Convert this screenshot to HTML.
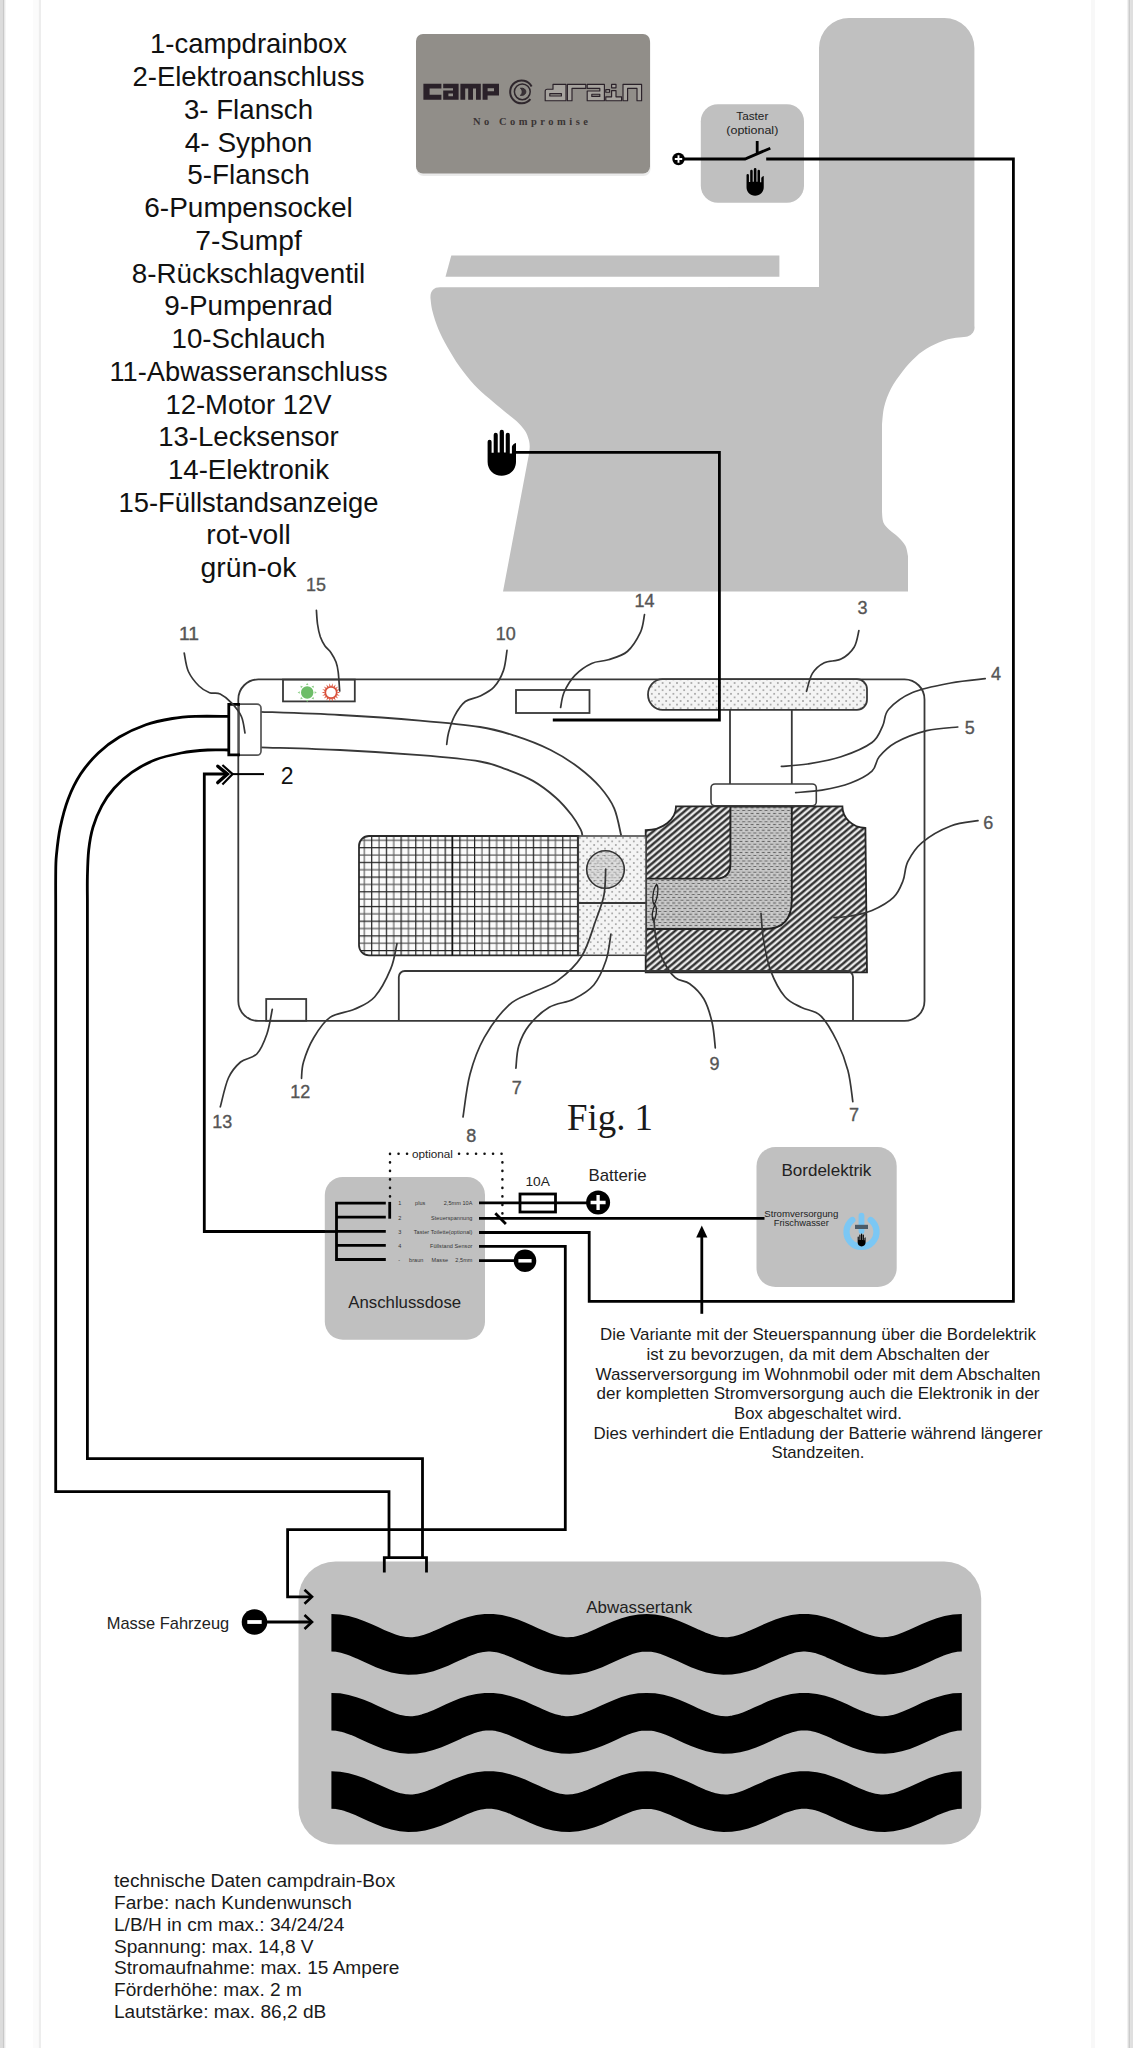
<!DOCTYPE html>
<html lang="de">
<head>
<meta charset="utf-8">
<title>campdrain-Box Anschlussplan</title>
<style>
html,body{margin:0;padding:0;background:#fff;}
body{width:1133px;height:2048px;overflow:hidden;font-family:"Liberation Sans",sans-serif;}
svg{display:block;}
text{font-family:"Liberation Sans",sans-serif;}
.serif{font-family:"Liberation Serif",serif;}
.k{stroke:#000;stroke-width:2.8;fill:none;stroke-linejoin:miter;}
.g{stroke:#383838;stroke-width:1.8;fill:none;}
.ld{stroke:#363636;stroke-width:1.7;fill:none;stroke-linecap:round;}
.lb{fill:#555;font-size:18px;text-anchor:middle;stroke:#555;stroke-width:.35;}
.lst{font-size:27.4px;fill:#111;text-anchor:middle;}
.tiny{font-size:5.5px;fill:#333;letter-spacing:.08px;}
</style>
</head>
<body>
<svg width="1133" height="2048" viewBox="0 0 1133 2048">
<defs>
  <!-- hand icon, 30 x 46 box -->
  <symbol id="hand" viewBox="0 0 29 46" overflow="visible">
    <path d="M.3 12a2 2 0 0 1 4 0V23h2.1V4.9a2 2 0 0 1 4.1 0V22.6h1.9V2.1a2.15 2.15 0 0 1 4.3 0V22.6h1.8V4.9a2 2 0 0 1 4.1 0V23.6h2.1V17c0 -1.6 2.2 -3.6 4.1 -3.9V32c0 8 -6 14 -14.3 14S.3 40 .3 32Z" fill="#000"/>
  </symbol>
  <pattern id="grid" width="14.7" height="14.7" patternUnits="userSpaceOnUse" x="371.1" y="847.1">
    <rect width="14.7" height="14.7" fill="#fbfbfb"/>
    <path d="M0 7.95H14.7M7.95 0V14.7" stroke="#5a5a5a" stroke-width="1.15"/>
    <path d="M0 .6H14.7M.6 0V14.7" stroke="#222" stroke-width="1.25"/>
  </pattern>
  <pattern id="dots" width="7.2" height="7.2" patternUnits="userSpaceOnUse" x="578" y="836">
    <rect width="7.2" height="7.2" fill="#f4f4f4"/>
    <circle cx="1.8" cy="1.8" r=".85" fill="#8c8c8c"/>
    <circle cx="5.4" cy="5.4" r=".85" fill="#8c8c8c"/>
  </pattern>
  <pattern id="dots2" width="5.6" height="5.6" patternUnits="userSpaceOnUse">
    <rect width="5.6" height="5.6" fill="#c2c2c2"/>
    <path d="M4.7 0V5.6" stroke="#d6d6d6" stroke-width=".9"/>
    <path d="M.3 1.4H3.1M3.1 4.2H5.6M0 4.2H.3" stroke="#5c5c5c" stroke-width="1.1"/>
  </pattern>
  <pattern id="hatch" width="12" height="4.75" patternUnits="userSpaceOnUse" patternTransform="rotate(-40)">
    <rect width="12" height="4.75" fill="#e9e9e9"/>
    <rect width="12" height="2.2" y="1.2" fill="#242424"/>
  </pattern>
</defs>

<!-- page background & frame edges -->
<rect width="1133" height="2048" fill="#fff"/>
<rect x="0" y="0" width="2.5" height="2048" fill="#dcdcdc"/>
<rect x="2.5" y="0" width="2" height="2048" fill="#c9c9c9"/>
<rect x="4.5" y="0" width="1" height="2048" fill="#ececec"/>
<rect x="38.5" y="0" width="2.5" height="2048" fill="#ededed"/>
<rect x="33" y="0" width="5.5" height="2048" fill="#fbfbfb"/>
<rect x="1091" y="0" width="4" height="2048" fill="#f8f8f8"/>
<rect x="1127.5" y="0" width="1" height="2048" fill="#e4e4e4"/>
<rect x="1128.5" y="0" width="2" height="2048" fill="#cbcbcb"/>
<rect x="1130.5" y="0" width="2.5" height="2048" fill="#dfdfdf"/>

<!-- ===== legend list ===== -->
<g id="legend" class="lst">
  <text x="248.5" y="53.3" textLength="197" lengthAdjust="spacingAndGlyphs">1-campdrainbox</text>
  <text x="248.5" y="86" textLength="232" lengthAdjust="spacingAndGlyphs">2-Elektroanschluss</text>
  <text x="248.5" y="118.8" textLength="129" lengthAdjust="spacingAndGlyphs">3- Flansch</text>
  <text x="248.5" y="151.6" textLength="127.5" lengthAdjust="spacingAndGlyphs">4- Syphon</text>
  <text x="248.5" y="184.4" textLength="122.5" lengthAdjust="spacingAndGlyphs">5-Flansch</text>
  <text x="248.5" y="217.2" textLength="208.5" lengthAdjust="spacingAndGlyphs">6-Pumpensockel</text>
  <text x="248.5" y="249.9" textLength="106.5" lengthAdjust="spacingAndGlyphs">7-Sumpf</text>
  <text x="248.5" y="282.7" textLength="233.5" lengthAdjust="spacingAndGlyphs">8-Rückschlagventil</text>
  <text x="248.5" y="315.4" textLength="168.5" lengthAdjust="spacingAndGlyphs">9-Pumpenrad</text>
  <text x="248.5" y="348.1" textLength="154" lengthAdjust="spacingAndGlyphs">10-Schlauch</text>
  <text x="248.5" y="380.8" textLength="278" lengthAdjust="spacingAndGlyphs">11-Abwasseranschluss</text>
  <text x="248.5" y="413.5" textLength="166" lengthAdjust="spacingAndGlyphs">12-Motor 12V</text>
  <text x="248.5" y="446.2" textLength="180.5" lengthAdjust="spacingAndGlyphs">13-Lecksensor</text>
  <text x="248.5" y="478.9" textLength="161" lengthAdjust="spacingAndGlyphs">14-Elektronik</text>
  <text x="248.5" y="511.6" textLength="260" lengthAdjust="spacingAndGlyphs">15-Füllstandsanzeige</text>
  <text x="248.5" y="544.4" textLength="84.5" lengthAdjust="spacingAndGlyphs">rot-voll</text>
  <text x="248.5" y="577.1" textLength="96" lengthAdjust="spacingAndGlyphs">grün-ok</text>
</g>

<!-- ===== toilet silhouette ===== -->
<g id="toilet" fill="#c0c0c0">
  <path d="M445.5 276.8L451.3 255.4H779.4V276.8Z"/>
  <path d="M819 287V48a30 30 0 0 1 30 -30H944.4a30 30 0 0 1 30 30V326a9 9 0 0 1 -6.9 10.4C964.4 336.9 954.1 337.6 947.9 339.3C941.7 341.0 935.7 343.7 930.3 346.6C924.9 349.5 920.3 352.8 915.7 356.9C911.1 361.0 906.6 366.1 902.5 371.5C898.4 376.9 893.8 383.2 890.8 389.1C887.8 395.0 885.7 400.8 884.2 406.7C882.7 412.6 882.4 421.4 882.0 424.3V512.1C882.2 513.8 882.2 519.5 883.4 522.4C884.6 525.3 886.8 527.3 889.3 529.7C891.8 532.1 895.4 534.3 898.1 537.0C900.8 539.7 903.8 542.6 905.4 545.8C907.0 549.0 907.6 554.4 908.0 556.1V591.4H503L528.7 455.5C528.9 454.1 529.7 449.5 529.7 446.8C529.7 444.1 529.5 442.1 528.7 439.4C527.9 436.7 527.0 433.8 525.0 430.7C523.0 427.6 519.9 424.2 516.4 420.9C512.9 417.6 508.5 414.7 504.0 411.0C499.5 407.3 494.1 402.9 489.2 398.6C484.3 394.3 479.3 390.4 474.4 385.0C469.4 379.6 464.0 372.9 459.5 366.5C455.0 360.1 450.7 352.9 447.2 346.7C443.7 340.5 441.0 335.4 438.5 329.4C436.0 323.4 433.7 316.0 432.4 310.9C431.1 305.8 430.8 300.6 430.5 298.5C430 291 433.5 287.2 440 287.2Z"/>
</g>

<!-- ===== logo card ===== -->
<g id="logo">
  <rect x="416.5" y="36" width="234" height="140" rx="7" fill="#d9d9d9" opacity=".55"/>
  <rect x="416" y="34" width="234" height="139.5" rx="7" fill="#918e89"/>
  <!-- "camp" block letters -->
  <g fill="#2a2129">
    <path d="M423.4 83.8H441.4V88.6H429.6V94.8H441.4V99.7H423.4Z"/>
    <path d="M443.2 83.8H458.6V99.7H443.2V90.4H453V88.2H443.2ZM448.4 93.6V96.2H453V93.6Z" fill-rule="evenodd"/>
    <path d="M460.4 83.8H480.8V99.7H476V88.4H473V99.7H468.2V88.4H465.2V99.7H460.4Z"/>
    <path d="M482.6 83.8H499V95.6H487.6V99.7H482.6ZM487.6 88.2V91.2H494V88.2Z" fill-rule="evenodd"/>
  </g>
  <!-- ring emblem -->
  <g fill="none" stroke="#2f272d">
    <path d="M531.6 86.5a11.4 11.4 0 1 0 -1.2 12.6" stroke-width="2"/>
    <circle cx="522.3" cy="91.8" r="7.9" stroke-width="1.5"/>
    <path d="M520.3 88.2c3.6 -.6 5.6 1.4 5.6 3.6s-2 4.2 -5.6 3.6c1.4 -1 1.8 -2.2 1.8 -3.6s-.4 -2.6 -1.8 -3.6Z" fill="#3a3237" stroke-width=".8"/>
  </g>
  <!-- "drain" outline letters -->
  <g fill="#a6a39e" stroke="#2a2129" stroke-width="1.15" stroke-linejoin="round">
    <path d="M561.4 84.4H566V100.7H545.2V91.2a2 2 0 0 1 2 -2H553V84.4ZM549.8 93.6V96H561.4V93.6Z" fill-rule="evenodd"/>
    <path d="M567.4 84.4H585.8V88.4H572V100.7H567.4Z"/>
    <path d="M587.2 84.4H604.4V100.7H587.2V91H599.8V88.4H587.2ZM591.8 94.2V96.4H599.8V94.2Z" fill-rule="evenodd"/>
    <path d="M605.8 96.8H611.6V90.6H616V96.8H621.6V100.7H605.8ZM611.6 84.4H616V87.8H611.6ZM605.8 89.6H609.6V92.2H605.8Z"/>
    <path d="M623 84.4H641.6V100.7H637V88.4H627.6V100.7H623Z"/>
  </g>
  <text class="serif" x="532" y="125.4" font-size="10.5" font-weight="bold" fill="#3a3434" text-anchor="middle" letter-spacing="3.1" textLength="118" lengthAdjust="spacing">No Compromise</text>
</g>

<!-- ===== Taster box ===== -->
<g id="taster">
  <rect x="700.8" y="104.3" width="103.2" height="98.5" rx="17" fill="#c0c0c0"/>
  <text x="752.3" y="120.2" font-size="11.6" text-anchor="middle" fill="#222" textLength="32" lengthAdjust="spacingAndGlyphs">Taster</text>
  <text x="752.3" y="133.6" font-size="11.6" text-anchor="middle" fill="#222" textLength="52" lengthAdjust="spacingAndGlyphs">(optional)</text>
  <use href="#hand" x="746.3" y="168" width="17.6" height="27.8"/>
</g>



<!-- ===== Fig. 1 : campdrain box ===== -->
<g id="fig1">
  <!-- outer case -->
  <rect class="g" x="238.3" y="679.4" width="686.2" height="341.5" rx="20"/>
  <!-- 15 LED panel -->
  <rect class="g" x="283" y="679.6" width="71.8" height="21.8" fill="#fff"/>
  <g id="led-green">
    <path d="M316.8 692.5L314.6 693.8L314.6 691.2ZM314.0 699.3L311.5 698.7L313.4 696.8ZM307.2 702.1L305.9 699.9L308.5 699.9ZM300.4 699.3L301.0 696.8L302.9 698.7ZM297.6 692.5L299.8 691.2L299.8 693.8ZM300.4 685.7L302.9 686.3L301.0 688.2ZM307.2 682.9L308.5 685.1L305.9 685.1ZM314.0 685.7L313.4 688.2L311.5 686.3Z" fill="#8fd08a"/>
    <circle cx="307.2" cy="692.5" r="6.2" fill="#6dbd68"/>
  </g>
  <g id="led-red">
    <path d="M340.4 692.5L337.4 691.8L337.4 693.2ZM339.8 695.7L337.2 694.0L336.7 695.3ZM338.2 698.5L336.3 696.0L335.4 697.1ZM335.7 700.6L334.8 697.7L333.6 698.4ZM332.6 701.8L332.8 698.6L331.4 698.9ZM329.4 701.8L330.6 698.9L329.2 698.6ZM326.3 700.6L328.4 698.4L327.2 697.7ZM323.8 698.5L326.6 697.1L325.7 696.0ZM322.2 695.7L325.3 695.3L324.8 694.0ZM321.6 692.5L324.6 693.2L324.6 691.8ZM322.2 689.3L324.8 691.0L325.3 689.7ZM323.8 686.5L325.7 689.0L326.6 687.9ZM326.3 684.4L327.2 687.3L328.4 686.6ZM329.4 683.2L329.2 686.4L330.6 686.1ZM332.6 683.2L331.4 686.1L332.8 686.4ZM335.7 684.4L333.6 686.6L334.8 687.3ZM338.2 686.5L335.4 687.9L336.3 689.0ZM339.8 689.3L336.7 689.7L337.2 691.0Z" fill="#d9503a"/>
    <circle cx="331" cy="692.5" r="5.7" fill="#fff" stroke="#d9503a" stroke-width="1.7"/>
  </g>
  <!-- 14 electronics -->
  <rect class="g" x="516" y="690" width="73.5" height="23" fill="#fff"/>
  <!-- 10 hose -->
  <path class="g" d="M260.3 711.8C273.6 712.3 313.4 713.5 340.0 715.0C366.6 716.5 396.7 718.6 420.0 720.6C443.3 722.6 464.1 724.5 480.0 727.0C495.9 729.5 503.5 732.1 515.3 735.9C527.1 739.7 540.0 744.7 550.6 750.0C561.2 755.3 570.7 761.5 578.9 767.7C587.1 773.9 594.1 780.2 600.0 787.0C605.9 793.8 610.7 800.2 614.2 808.3C617.7 816.4 620.0 831.0 621.2 835.6"/>
  <path class="g" d="M260.3 747.3C273.6 747.8 313.4 748.7 340.0 750.0C366.6 751.3 396.7 753.3 420.0 755.2C443.3 757.1 465.6 759.1 480.0 761.5C494.4 763.9 497.7 766.2 506.5 769.4C515.3 772.6 524.8 776.2 533.0 780.9C541.2 785.6 549.4 792.0 555.9 797.7C562.4 803.4 567.7 810.0 571.8 815.3C575.9 820.6 578.8 826.0 580.6 829.4C582.4 832.8 582.1 834.6 582.4 835.6"/>
  <!-- 11 connector -->
  <path d="M239 704.2H257a4 4 0 0 1 4 4V751.2a4 4 0 0 1 -4 4H239Z" fill="#fff" stroke="#555" stroke-width="1.7"/>
  <path class="k" d="M240 704.4H228.8V754.9H240" stroke-width="2.7"/>
  <!-- 3 flange -->
  <path d="M662.5 679.2H857a10 10 0 0 1 10 10V699.8a10 10 0 0 1 -10 10H662.5a14.5 15.3 0 0 1 0 -30.6Z" fill="url(#dots)" stroke="#383838" stroke-width="1.8"/>
  <!-- 4 syphon pipe -->
  <path class="g" d="M730 710V784M791.8 710V784"/>
  <!-- 6 pump base -->
  <path d="M645.7 830.2A30.3 23.8 0 0 0 676 806.4H842.4A24 21.5 0 0 0 865.4 828L867 972.4H645.7Z" fill="url(#hatch)" stroke="#262626" stroke-width="1.8"/>
  <!-- 7 sump channel -->
  <path d="M730.4 806.6V864Q730.4 878.6 716 878.6H645.7V929H765Q791.8 929 791.8 900V806.6Z" fill="url(#dots2)" stroke="#222" stroke-width="1.9"/>
  <!-- 5 flange -->
  <rect x="711" y="784" width="105.3" height="21.8" rx="4" fill="#fff" stroke="#3c3c3c" stroke-width="1.6"/>
  <!-- 12 motor -->
  <path d="M578.3 836H369a10 10 0 0 0 -10 10V945.3a10 10 0 0 0 10 10H578.3Z" fill="url(#grid)" stroke="#2a2a2a" stroke-width="1.8"/>
  <path d="M452.3 836V955.3" stroke="#111" stroke-width="1.5" fill="none"/>
  <!-- sump block / check valve -->
  <rect x="578.3" y="836" width="67.7" height="119.3" fill="url(#dots)" stroke="#3c3c3c" stroke-width="1.5"/>
  <path class="g" d="M578.3 903H646"/>
  <circle cx="605.5" cy="869.5" r="18.8" fill="url(#dots2)" fill-opacity=".55" stroke="#333" stroke-width="1.6"/>
  <!-- 9 impeller squiggle -->
  <path d="M656.6 884.3c2.6 3 .8 16 -2.6 20c-2.6 -4 -.6 -16 2.6 -20ZM655.2 905c2.2 3.4 1.2 12.6 -1.6 16.4c-2.4 -3.4 -1.4 -12.4 1.6 -16.4Z" fill="none" stroke="#222" stroke-width="1.3"/>
  <!-- base plate -->
  <path class="g" d="M398.8 1020.8V977a6 6 0 0 1 6 -6H847a6 6 0 0 1 6 6V1020.8"/>
  <!-- 13 leak sensor -->
  <rect class="g" x="266.2" y="999" width="40" height="21.8" fill="#fff"/>
</g>

<!-- ===== leader lines + reference numerals ===== -->
<g id="leaders">
  <path class="ld" d="M184.2 653.0C184.9 656.1 185.9 666.0 188.4 671.5C190.9 677.0 195.5 682.5 199.0 686.0C202.5 689.5 206.1 691.4 209.6 692.7C213.1 694.0 216.5 692.2 220.2 694.0C223.9 695.8 228.5 699.5 232.0 703.3C235.5 707.0 239.2 711.5 241.4 716.5C243.6 721.5 244.4 730.2 245.0 733.0"/><!-- 11 -->
  <path class="ld" d="M316.4 610.3C316.6 612.6 316.9 619.6 317.5 624.0C318.1 628.4 319.1 633.1 320.3 636.8C321.6 640.5 323.2 643.4 325.0 646.0C326.8 648.6 329.2 650.0 331.0 652.7C332.8 655.4 334.8 658.8 336.0 662.0C337.2 665.2 337.6 667.2 338.2 672.0C338.8 676.8 339.4 687.8 339.7 691.0"/><!-- 15 -->
  <path class="ld" d="M507.0 650.3C506.4 653.7 505.6 664.5 503.4 670.6C501.2 676.8 497.9 682.9 493.9 687.2C489.9 691.5 484.4 693.9 479.6 696.3C474.8 698.7 469.5 698.2 465.3 701.5C461.1 704.8 457.4 710.6 454.6 715.8C451.8 721.0 449.9 727.7 448.6 732.5C447.3 737.3 447.0 742.4 446.7 744.4"/><!-- 10 -->
  <path class="ld" d="M644.5 614.6C643.8 617.6 643.3 626.2 640.4 632.4C637.5 638.5 632.6 646.9 627.3 651.5C621.9 656.1 614.2 657.8 608.3 659.8C602.3 661.8 597.2 660.8 591.6 663.4C586.0 666.0 579.5 670.5 574.9 675.3C570.3 680.1 566.6 686.6 564.2 692.0C561.8 697.4 561.2 704.9 560.6 707.5"/><!-- 14 -->
  <path class="ld" d="M858.9 630.5C858.1 633.3 857.1 642.4 854.1 647.2C851.1 652.0 846.0 656.5 841.0 659.1C836.0 661.7 829.1 660.3 824.3 662.7C819.5 665.1 815.4 668.6 812.4 673.4C809.4 678.2 807.5 688.3 806.5 691.3"/><!-- 3 -->
  <path class="ld" d="M985.2 678.7C979.5 679.4 962.8 680.7 950.7 683.0C938.6 685.3 922.8 688.1 912.5 692.5C902.2 696.9 893.7 703.7 888.7 709.2C883.7 714.8 885.5 720.2 882.7 725.8C879.9 731.3 879.0 737.3 872.0 742.5C865.0 747.7 851.7 753.2 841.0 756.8C830.3 760.4 817.6 762.4 807.7 764.0C797.8 765.6 785.8 766.0 781.4 766.4"/><!-- 4 -->
  <path class="ld" d="M957.8 727.0C952.6 727.6 937.1 728.0 926.8 730.6C916.5 733.2 903.7 738.1 895.8 742.5C887.9 746.9 883.2 752.0 879.2 756.8C875.2 761.6 876.8 766.7 872.0 771.1C867.2 775.5 858.9 779.8 850.6 783.0C842.3 786.2 831.1 788.6 822.0 790.2C812.9 791.8 800.1 792.2 795.7 792.6"/><!-- 5 -->
  <path class="ld" d="M978.0 820.7C973.5 821.6 960.0 822.4 950.7 826.0C941.4 829.6 929.1 836.6 922.0 842.6C914.9 848.6 911.0 855.3 907.8 861.7C904.6 868.1 905.4 874.8 903.0 880.8C900.6 886.8 898.7 892.4 893.5 897.4C888.3 902.4 879.1 907.4 872.0 910.5C864.9 913.6 857.0 914.8 850.6 916.0C844.2 917.2 836.7 917.4 833.9 917.7"/><!-- 6 -->
  <path class="ld" d="M272.3 1009.3C271.4 1013.4 269.6 1026.2 267.0 1033.7C264.4 1041.2 261.2 1049.3 256.8 1054.0C252.4 1058.7 245.3 1058.0 240.6 1062.0C235.9 1066.0 231.8 1070.5 228.4 1078.0C225.0 1085.5 221.7 1102.0 220.3 1106.8"/><!-- 13 -->
  <path class="ld" d="M397.0 943.5C396.0 947.7 394.5 959.8 390.8 968.7C387.1 977.6 380.7 990.2 374.6 997.0C368.5 1003.8 361.7 1005.9 354.3 1009.3C346.9 1012.7 336.8 1012.7 330.0 1017.4C323.2 1022.1 318.1 1030.3 313.7 1037.7C309.3 1045.1 305.5 1055.2 303.5 1062.0C301.5 1068.8 301.8 1075.6 301.5 1078.3"/><!-- 12 -->
  <path class="ld" d="M605.7 869.2C605.4 873.5 605.6 886.5 604.0 895.0C602.4 903.5 599.6 909.8 595.9 920.0C592.2 930.2 588.0 946.4 581.6 956.5C575.2 966.6 565.4 974.9 557.3 980.9C549.2 986.9 541.1 988.2 533.0 992.3C524.9 996.4 516.7 997.7 508.6 1005.3C500.5 1012.9 490.6 1026.2 484.2 1037.7C477.8 1049.2 473.5 1061.1 470.0 1074.3C466.5 1087.5 464.2 1109.9 463.0 1117.0"/><!-- 8 -->
  <path class="ld" d="M610.9 934.2C610.1 938.6 608.9 952.1 606.0 960.6C603.1 969.1 599.2 978.6 593.8 985.0C588.4 991.4 580.9 995.5 573.5 999.2C566.1 1002.9 556.6 1002.9 549.2 1007.3C541.8 1011.7 534.0 1019.2 528.9 1025.6C523.8 1032.0 520.9 1038.8 518.7 1045.9C516.5 1053.0 516.4 1064.5 515.9 1068.2"/><!-- 7a -->
  <path class="ld" d="M653.8 918.0C654.2 921.6 654.6 932.4 656.2 939.6C657.8 946.8 660.2 954.6 663.4 961.0C666.6 967.4 670.9 973.9 675.3 977.7C679.7 981.5 684.8 980.2 689.6 983.7C694.4 987.2 700.1 992.5 703.9 999.0C707.7 1005.5 710.3 1014.8 712.2 1023.0C714.1 1031.2 714.8 1043.8 715.3 1048.0"/><!-- 9 -->
  <path class="ld" d="M761.0 913.4C761.4 917.8 761.9 930.1 763.5 939.6C765.1 949.1 767.0 961.1 770.6 970.6C774.2 980.1 779.7 990.6 784.9 996.8C790.1 1002.9 795.6 1004.3 801.6 1007.5C807.6 1010.7 814.8 1010.0 820.7 1015.8C826.7 1021.5 832.8 1032.8 837.3 1042.0C841.8 1051.2 845.4 1060.8 848.0 1070.7C850.6 1080.6 852.0 1096.4 852.8 1101.6"/><!-- 7b -->
</g>
<g id="numerals" class="lb">
  <text x="189" y="639.8" textLength="20" lengthAdjust="spacingAndGlyphs">11</text>
  <text x="316" y="590.8" textLength="20" lengthAdjust="spacingAndGlyphs">15</text>
  <text x="505.8" y="640" textLength="20" lengthAdjust="spacingAndGlyphs">10</text>
  <text x="644.5" y="606.8" textLength="20" lengthAdjust="spacingAndGlyphs">14</text>
  <text x="862.5" y="614.3">3</text>
  <text x="996" y="680.3">4</text>
  <text x="969.7" y="734.2">5</text>
  <text x="988.3" y="828.8">6</text>
  <text x="222.3" y="1127.5" textLength="20" lengthAdjust="spacingAndGlyphs">13</text>
  <text x="300.3" y="1097.8" textLength="20" lengthAdjust="spacingAndGlyphs">12</text>
  <text x="471.2" y="1141.7">8</text>
  <text x="516.7" y="1093.8">7</text>
  <text x="714.6" y="1070">9</text>
  <text x="854" y="1121.2">7</text>
</g>
<text class="serif" x="567" y="1129.5" font-size="38.5" fill="#1a1a1a" textLength="86" lengthAdjust="spacingAndGlyphs">Fig. 1</text>

<!-- ===== waste water tank ===== -->
<g id="tank">
  <rect x="298.5" y="1561.4" width="682.7" height="283.2" rx="37" fill="#c0c0c0"/>
  <text x="639.3" y="1612.6" font-size="16.2" text-anchor="middle" fill="#222" textLength="106" lengthAdjust="spacingAndGlyphs">Abwassertank</text>
  <clipPath id="wclip"><rect x="331.4" y="1590" width="630.4" height="250"/></clipPath>
  <g clip-path="url(#wclip)" fill="none" stroke="#000" stroke-width="37.5">
    <path d="M325.1 1633.1L331.5 1632.8L338.0 1633.1L344.4 1634.3L350.8 1636.1L357.2 1638.4L363.7 1641.1L370.1 1644.1L376.5 1647.0L383.0 1649.8L389.4 1652.3L395.8 1654.2L402.3 1655.5L408.7 1656.0L415.1 1655.8L421.5 1654.9L428.0 1653.2L434.4 1651.0L440.8 1648.4L447.3 1645.5L453.7 1642.5L460.1 1639.7L466.6 1637.1L473.0 1635.0L479.4 1633.6L485.8 1632.8L492.3 1632.8L498.7 1633.6L505.1 1635.1L511.6 1637.2L518.0 1639.7L524.4 1642.6L530.9 1645.5L537.3 1648.4L543.7 1651.1L550.1 1653.3L556.6 1654.9L563.0 1655.8L569.4 1656.0L575.9 1655.5L582.3 1654.2L588.7 1652.2L595.2 1649.8L601.6 1647.0L608.0 1644.0L614.5 1641.1L620.9 1638.4L627.3 1636.0L633.7 1634.2L640.2 1633.1L646.6 1632.8L653.0 1633.1L659.5 1634.2L665.9 1636.0L672.3 1638.4L678.8 1641.1L685.2 1644.0L691.6 1647.0L698.0 1649.8L704.5 1652.2L710.9 1654.2L717.3 1655.5L723.8 1656.0L730.2 1655.8L736.6 1654.9L743.0 1653.3L749.5 1651.1L755.9 1648.4L762.3 1645.5L768.8 1642.6L775.2 1639.7L781.6 1637.2L788.1 1635.1L794.5 1633.6L800.9 1632.8L807.3 1632.8L813.8 1633.6L820.2 1635.0L826.6 1637.1L833.1 1639.7L839.5 1642.5L845.9 1645.5L852.4 1648.4L858.8 1651.0L865.2 1653.2L871.6 1654.9L878.1 1655.8L884.5 1656.0L890.9 1655.5L897.4 1654.2L903.8 1652.3L910.2 1649.8L916.7 1647.0L923.1 1644.1L929.5 1641.1L936.0 1638.4L942.4 1636.1L948.8 1634.3L955.2 1633.1L961.7 1632.8L968.1 1633.1"/>
    <path d="M325.1 1712.0L331.5 1711.7L338.0 1712.0L344.4 1713.2L350.8 1715.0L357.2 1717.3L363.7 1720.0L370.1 1723.0L376.5 1725.9L383.0 1728.7L389.4 1731.2L395.8 1733.1L402.3 1734.4L408.7 1734.9L415.1 1734.7L421.5 1733.8L428.0 1732.1L434.4 1729.9L440.8 1727.3L447.3 1724.4L453.7 1721.4L460.1 1718.6L466.6 1716.0L473.0 1713.9L479.4 1712.5L485.8 1711.7L492.3 1711.7L498.7 1712.5L505.1 1714.0L511.6 1716.1L518.0 1718.6L524.4 1721.5L530.9 1724.4L537.3 1727.3L543.7 1730.0L550.1 1732.2L556.6 1733.8L563.0 1734.7L569.4 1734.9L575.9 1734.4L582.3 1733.1L588.7 1731.1L595.2 1728.7L601.6 1725.9L608.0 1722.9L614.5 1720.0L620.9 1717.3L627.3 1714.9L633.7 1713.1L640.2 1712.0L646.6 1711.7L653.0 1712.0L659.5 1713.1L665.9 1714.9L672.3 1717.3L678.8 1720.0L685.2 1722.9L691.6 1725.9L698.0 1728.7L704.5 1731.1L710.9 1733.1L717.3 1734.4L723.8 1734.9L730.2 1734.7L736.6 1733.8L743.0 1732.2L749.5 1730.0L755.9 1727.3L762.3 1724.4L768.8 1721.5L775.2 1718.6L781.6 1716.1L788.1 1714.0L794.5 1712.5L800.9 1711.7L807.3 1711.7L813.8 1712.5L820.2 1713.9L826.6 1716.0L833.1 1718.6L839.5 1721.4L845.9 1724.4L852.4 1727.3L858.8 1729.9L865.2 1732.1L871.6 1733.8L878.1 1734.7L884.5 1734.9L890.9 1734.4L897.4 1733.1L903.8 1731.2L910.2 1728.7L916.7 1725.9L923.1 1723.0L929.5 1720.0L936.0 1717.3L942.4 1715.0L948.8 1713.2L955.2 1712.0L961.7 1711.7L968.1 1712.0"/>
    <path d="M325.1 1790.3L331.5 1790.0L338.0 1790.3L344.4 1791.5L350.8 1793.3L357.2 1795.6L363.7 1798.3L370.1 1801.3L376.5 1804.2L383.0 1807.0L389.4 1809.5L395.8 1811.4L402.3 1812.7L408.7 1813.2L415.1 1813.0L421.5 1812.1L428.0 1810.4L434.4 1808.2L440.8 1805.6L447.3 1802.7L453.7 1799.7L460.1 1796.9L466.6 1794.3L473.0 1792.2L479.4 1790.8L485.8 1790.0L492.3 1790.0L498.7 1790.8L505.1 1792.3L511.6 1794.4L518.0 1796.9L524.4 1799.8L530.9 1802.7L537.3 1805.6L543.7 1808.3L550.1 1810.5L556.6 1812.1L563.0 1813.0L569.4 1813.2L575.9 1812.7L582.3 1811.4L588.7 1809.4L595.2 1807.0L601.6 1804.2L608.0 1801.2L614.5 1798.3L620.9 1795.6L627.3 1793.2L633.7 1791.4L640.2 1790.3L646.6 1790.0L653.0 1790.3L659.5 1791.4L665.9 1793.2L672.3 1795.6L678.8 1798.3L685.2 1801.2L691.6 1804.2L698.0 1807.0L704.5 1809.4L710.9 1811.4L717.3 1812.7L723.8 1813.2L730.2 1813.0L736.6 1812.1L743.0 1810.5L749.5 1808.3L755.9 1805.6L762.3 1802.7L768.8 1799.8L775.2 1796.9L781.6 1794.4L788.1 1792.3L794.5 1790.8L800.9 1790.0L807.3 1790.0L813.8 1790.8L820.2 1792.2L826.6 1794.3L833.1 1796.9L839.5 1799.7L845.9 1802.7L852.4 1805.6L858.8 1808.2L865.2 1810.4L871.6 1812.1L878.1 1813.0L884.5 1813.2L890.9 1812.7L897.4 1811.4L903.8 1809.5L910.2 1807.0L916.7 1804.2L923.1 1801.3L929.5 1798.3L936.0 1795.6L942.4 1793.3L948.8 1791.5L955.2 1790.3L961.7 1790.0L968.1 1790.3"/>
  </g>
  <path class="k" d="M384.3 1572.5V1557.7H426.5V1572.5" stroke-width="2.6"/>
  <!-- arrows into tank -->
  <path d="M304.5 1589.8L312 1596.8L304.5 1603.8" stroke="#000" stroke-width="2.6" fill="none"/>
  <path class="k" d="M266 1622H311" stroke-width="2.6"/>
  <path d="M304.5 1615L312 1622L304.5 1629" stroke="#000" stroke-width="2.6" fill="none"/>
  <circle cx="254.5" cy="1622" r="12.8" fill="#000"/>
  <path d="M247.3 1622h14.4" stroke="#fff" stroke-width="3.8" fill="none"/>
  <text x="168" y="1628.8" font-size="16.2" text-anchor="middle" fill="#222" textLength="122.5" lengthAdjust="spacingAndGlyphs">Masse Fahrzeug</text>
</g>

<!-- ===== external hoses + wiring ===== -->
<g id="hoses">
  <path class="k" d="M228.0 716.4C222.6 716.4 204.6 716.0 195.3 716.4C186.0 716.8 180.6 717.1 172.4 718.5C164.2 719.9 154.7 721.6 145.9 724.7C137.1 727.8 127.3 732.3 119.4 737.0C111.5 741.7 104.8 746.8 98.3 753.0C91.8 759.2 85.6 766.5 80.6 774.1C75.6 781.8 71.6 790.1 68.2 798.9C64.8 807.7 62.3 817.7 60.3 827.1C58.3 836.5 57.2 847.1 56.4 855.3C55.6 863.5 55.8 869.0 55.7 876.5C55.6 884.0 55.7 896.1 55.7 900.0V1491.6H389V1557.7"/>
  <path class="k" d="M228.0 750.0C224.6 750.0 215.5 749.5 207.7 750.0C199.9 750.5 190.0 751.3 181.2 753.0C172.4 754.7 162.9 756.8 154.7 760.0C146.5 763.2 138.6 767.7 131.8 772.4C125.0 777.1 119.1 782.7 114.1 788.3C109.1 793.9 105.3 799.4 101.8 805.9C98.3 812.4 95.2 819.8 93.0 827.1C90.8 834.5 89.6 841.8 88.7 850.0C87.8 858.2 87.6 868.2 87.4 876.5C87.2 884.8 87.4 896.1 87.4 900.0V1458.6H422.5V1557.7"/>
  <!-- cable to connector 2 -->
  <path class="k" d="M226 774H204.3V1231.5H330" stroke-width="3.2"/>
  <path d="M217.8 766.2L227.4 774.1L217.8 782.6" stroke="#000" stroke-width="3.4" fill="none" stroke-linecap="round"/><path d="M222.4 765L232.6 774.1L222.4 784.4" stroke="#000" stroke-width="2.2" fill="none"/>
  <path d="M232 774.1H264" stroke="#000" stroke-width="2" fill="none"/>
  <text x="287.2" y="784" font-size="23" text-anchor="middle" fill="#111">2</text>
</g>

<!-- ===== junction box ===== -->
<g id="dose">
  <rect x="324.8" y="1177" width="160.2" height="162.7" rx="18" fill="#c0c0c0"/>
  <path class="k" d="M320 1231.5H337" stroke-width="2.6"/>
  <path class="k" d="M385.8 1203.2H336.5V1259.5H385.8M336.5 1217.2H385.8M336.5 1231.3H385.8M336.5 1245.4H385.8" stroke-width="3.1"/>
  <path class="k" d="M389.7 1201.9V1218.7" stroke-width="2.7"/>
  <g class="tiny">
    <text x="398.3" y="1205">1</text><text x="415" y="1205">plus</text><text x="472.5" y="1205" text-anchor="end">2,5mm 10A</text>
    <text x="398.3" y="1219.6">2</text><text x="472.5" y="1219.6" text-anchor="end">Steuerspannung</text>
    <text x="398.3" y="1233.8">3</text><text x="472.5" y="1233.8" text-anchor="end">Taster Toilette(optional)</text>
    <text x="398.3" y="1247.6">4</text><text x="472.5" y="1247.6" text-anchor="end">Füllstand Sensor</text>
    <text x="398.3" y="1261.6">-</text><text x="409" y="1261.6">braun</text><text x="431.5" y="1261.6">Masse</text><text x="472.5" y="1261.6" text-anchor="end">2,5mm</text>
  </g>
  <text x="404.7" y="1307.5" font-size="17" text-anchor="middle" fill="#222" textLength="113" lengthAdjust="spacingAndGlyphs">Anschlussdose</text>
  <!-- right-hand terminals -->
  <path class="k" d="M479 1202.9H588"/>
  <rect class="k" x="520" y="1194" width="35.5" height="18" stroke-width="2.6"/>
  <path class="k" d="M479 1246.4H565.3V1529.6H287.6V1596.8H311"/>
  <path class="k" d="M479 1260.6H515"/>
  <path class="k" d="M495.3 1213.2L505.9 1224"/>
  <!-- optional dotted loop -->
  <path d="M390 1153.8V1197M398.5 1153.8H407.5M459 1153.8H502M502.4 1162.3V1214" stroke="#111" stroke-width="2.5" stroke-dasharray="0.1 8.4" stroke-linecap="round" fill="none"/>
  <text x="432.4" y="1157.6" font-size="10.5" text-anchor="middle" fill="#222" textLength="41" lengthAdjust="spacingAndGlyphs">optional</text>
  <text x="537.7" y="1185.6" font-size="13.4" text-anchor="middle" fill="#222" textLength="24.5" lengthAdjust="spacingAndGlyphs">10A</text>
  <text x="617.5" y="1180.8" font-size="17" text-anchor="middle" fill="#222" textLength="58" lengthAdjust="spacingAndGlyphs">Batterie</text>
  <circle cx="598.1" cy="1202.5" r="12" fill="#000"/>
  <path d="M590.6 1202.5h15M598.1 1195v15" stroke="#fff" stroke-width="3.3" fill="none"/>
  <circle cx="525" cy="1260.8" r="11.3" fill="#000"/>
  <path d="M518.4 1260.8h13.2" stroke="#fff" stroke-width="3.5" fill="none"/>
</g>

<!-- ===== Bordelektrik ===== -->
<g id="bord">
  <rect x="756.5" y="1147" width="140.2" height="140" rx="19" fill="#c0c0c0"/>
  <path class="k" d="M479 1218.4H764.5"/>
  <text x="826.4" y="1176" font-size="17" text-anchor="middle" fill="#222" textLength="90" lengthAdjust="spacingAndGlyphs">Bordelektrik</text>
  <text x="801.3" y="1216.8" font-size="8.6" text-anchor="middle" fill="#222" textLength="74" lengthAdjust="spacingAndGlyphs">Stromversorgung</text>
  <text x="801.3" y="1226" font-size="8.6" text-anchor="middle" fill="#222" textLength="55" lengthAdjust="spacingAndGlyphs">Frischwasser</text>
  <path d="M852.3 1220.0A15 15 0 1 0 870.7 1220.0" fill="none" stroke="#7bc7f4" stroke-width="6.3" stroke-linecap="round"/>
  <path d="M861.5 1215.6V1231" stroke="#7bc7f4" stroke-width="5.8" stroke-linecap="round"/>
  <rect x="855" y="1224.8" width="13" height="4.2" fill="#4b5b68"/>
  <use href="#hand" x="857.4" y="1233.6" width="8.4" height="12.8"/>
  <!-- arrow -->
  <path class="k" d="M701.8 1313.8V1236"/>
  <path d="M701.8 1225.6L707.4 1237.5H696.2Z" fill="#000"/>
</g>

<!-- explanatory paragraph -->
<g id="para" font-size="16.4" fill="#1a1a1a" text-anchor="middle">
  <text x="818" y="1339.8" textLength="436" lengthAdjust="spacingAndGlyphs">Die Variante mit der Steuerspannung über die Bordelektrik</text>
  <text x="818" y="1359.8" textLength="343" lengthAdjust="spacingAndGlyphs">ist zu bevorzugen, da mit dem Abschalten der</text>
  <text x="818" y="1379.5" textLength="445" lengthAdjust="spacingAndGlyphs">Wasserversorgung im Wohnmobil oder mit dem Abschalten</text>
  <text x="818" y="1399.3" textLength="443" lengthAdjust="spacingAndGlyphs">der kompletten Stromversorgung auch die Elektronik in der</text>
  <text x="818" y="1419" textLength="168" lengthAdjust="spacingAndGlyphs">Box abgeschaltet wird.</text>
  <text x="818" y="1438.6" textLength="449" lengthAdjust="spacingAndGlyphs">Dies verhindert die Entladung der Batterie während längerer</text>
  <text x="818" y="1458.3" textLength="93" lengthAdjust="spacingAndGlyphs">Standzeiten.</text>
</g>

<!-- ===== technical data ===== -->
<g id="tech" font-size="19.1" fill="#1a1a1a">
  <text x="114" y="1887.2">technische Daten campdrain-Box</text>
  <text x="114" y="1908.9">Farbe: nach Kundenwunsch</text>
  <text x="114" y="1930.7">L/B/H in cm max.: 34/24/24</text>
  <text x="114" y="1952.5">Spannung: max. 14,8 V</text>
  <text x="114" y="1974.3">Stromaufnahme: max. 15 Ampere</text>
  <text x="114" y="1996.1">Förderhöhe: max. 2 m</text>
  <text x="114" y="2017.9">Lautstärke: max. 86,2 dB</text>
</g>

<!-- ===== wiring upper part ===== -->
<g id="wires-top">
  <path class="k" d="M684 159H745L770.3 148.2M757.2 141V153"/>
  <path class="k" d="M766.2 159H1013.4V1301.4H589.2V1232.5H479"/>
  <circle cx="678.5" cy="159" r="6.2" fill="#000"/>
  <path d="M674.8 159h7.4M678.5 155.3v7.4" stroke="#fff" stroke-width="1.9" fill="none"/>
  <use href="#hand" x="487.3" y="429.8" width="28.9" height="46"/>
  <path class="k" d="M514 452.4H719.4V720H552.8"/>
</g>

</svg>
</body>
</html>
